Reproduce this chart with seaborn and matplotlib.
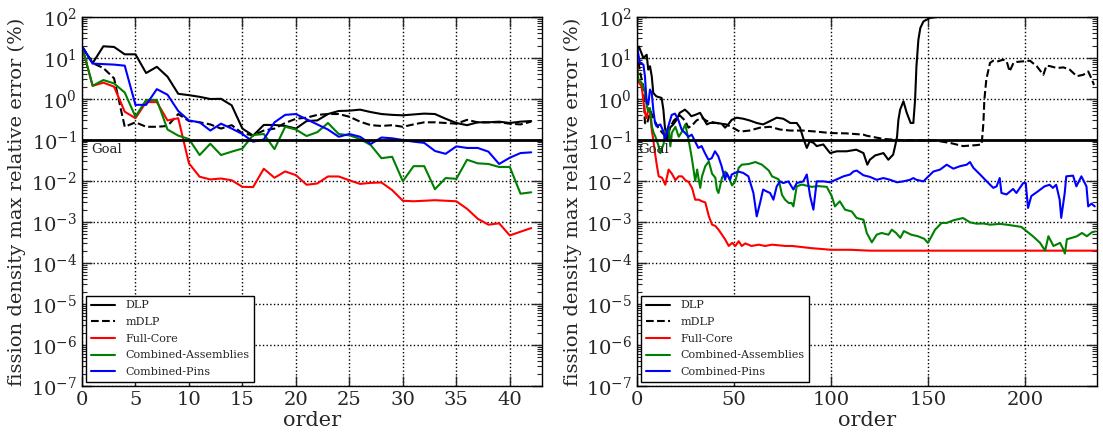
import numpy as np
import pandas as pd
import matplotlib
matplotlib.use("Agg")
import matplotlib.pyplot as plt
import seaborn as sns
from matplotlib.ticker import LogLocator, LogFormatterSciNotation, NullFormatter

# ---------------- left panel: error vs expansion order (0..42) ----------------
order_left = list(range(43))
dlp_left = [19.3, 7.5, 19.3, 18.6, 12.3, 12.3, 4.3, 6.1, 3.5, 1.34,
            1.24, 1.13, 1.0, 1.01, 0.70, 0.19, 0.128, 0.233, 0.233, 0.22,
            0.19, 0.29, 0.30, 0.43, 0.51, 0.52, 0.55, 0.48, 0.43, 0.41,
            0.40, 0.42, 0.44, 0.43, 0.33, 0.26, 0.23, 0.27, 0.27, 0.28,
            0.26, 0.28, 0.29]
mdlp_left = [19.3, 7.5, 5.7, 3.2, 0.21, 0.27, 0.21, 0.21, 0.22, 0.43,
             0.29, 0.27, 0.24, 0.19, 0.23, 0.145, 0.13, 0.17, 0.19, 0.26,
             0.33, 0.35, 0.41, 0.43, 0.43, 0.37, 0.28, 0.23, 0.22, 0.23,
             0.21, 0.24, 0.27, 0.27, 0.26, 0.25, 0.31, 0.27, 0.27, 0.27,
             0.25, 0.24, 0.28]
core_left = [19.3, 2.1, 2.5, 2.0, 0.49, 0.34, 0.84, 0.84, 0.30, 0.34,
             0.027, 0.0127, 0.0109, 0.0115, 0.0104, 0.0072, 0.0071, 0.0199, 0.012, 0.0171,
             0.0139, 0.0081, 0.0087, 0.0129, 0.0129, 0.0104, 0.0085, 0.0090, 0.0092, 0.0060,
             0.0033, 0.0032, 0.0033, 0.0034, 0.0033, 0.0032, 0.0021, 0.0012, 0.00086, 0.00093,
             0.00047, 0.00058, 0.00071]
assm_left = [19.3, 2.1, 2.9, 2.4, 1.44, 0.37, 0.95, 0.95, 0.18, 0.128,
             0.106, 0.043, 0.081, 0.043, 0.052, 0.062, 0.132, 0.14, 0.06, 0.21,
             0.18, 0.125, 0.155, 0.26, 0.14, 0.13, 0.106, 0.075, 0.036, 0.039,
             0.0099, 0.023, 0.023, 0.0063, 0.0118, 0.0113, 0.033, 0.027, 0.026, 0.022,
             0.022, 0.0049, 0.0053]
pins_left = [19.3, 7.3, 7.1, 6.9, 6.5, 0.72, 0.72, 1.74, 1.27, 0.51,
             0.30, 0.27, 0.17, 0.25, 0.19, 0.14, 0.091, 0.103, 0.27, 0.41,
             0.43, 0.32, 0.24, 0.18, 0.12, 0.14, 0.12, 0.080, 0.115, 0.11,
             0.10, 0.091, 0.085, 0.054, 0.046, 0.07, 0.064, 0.064, 0.052, 0.026,
             0.037, 0.048, 0.05]

# ---------------- right panel: error vs order (0..237) ----------------
dlp_right_x = [0, 1, 3.3, 5, 5.8, 6.7, 7.6, 8.4, 10, 12.7, 13.6, 14.4, 15.6, 17, 18.7,
               20.4, 22, 24.7, 26.5, 28, 30, 32.5, 34, 36, 37.6, 41, 43.6, 45.4, 47,
               48.8, 51.4, 54.8, 58, 61.7, 65, 68.6, 72, 75.4, 79, 82.3, 84, 85.7, 87.5,
               89, 91, 92.6, 96, 99.5, 103, 108, 113, 116.7, 118.7, 120, 122.7, 127,
               129.5, 132, 133, 134, 134.7, 135.6, 137.3, 139, 141, 142.4, 143.3, 144,
               145, 146, 147.6, 151, 154.5]
dlp_right_y = [15, 19, 10, 12, 5.2, 6.3, 3.6, 1.4, 1.16, 1.06, 0.55, 0.2, 0.1, 0.2, 0.24,
               0.31, 0.46, 0.55, 0.46, 0.38, 0.41, 0.46, 0.35, 0.24, 0.26, 0.26, 0.25, 0.2, 0.24,
               0.31, 0.35, 0.33, 0.3, 0.26, 0.24, 0.29, 0.35, 0.33, 0.26, 0.26, 0.2, 0.11, 0.064,
               0.093, 0.085, 0.071, 0.078, 0.048, 0.053, 0.053, 0.058, 0.048, 0.025, 0.033, 0.042, 0.048,
               0.033, 0.044, 0.071, 0.12, 0.31, 0.55, 0.88, 0.46, 0.26, 0.26, 0.96, 6.3,
               28, 54, 78, 95, 100]

mdlp_right_x = [0, 1.5, 3.3, 4.1, 5, 7, 9, 11, 13, 15, 17, 19, 22, 24.7, 26.5, 28.5, 30.7,
                33.3, 36, 41, 46, 49.6, 53, 58, 63.4, 68.6, 73.7, 78.9, 85.7, 92.6, 99.5,
                108, 116.7, 118.4, 122.7, 127, 135.6, 144, 153, 161.3, 168, 175, 177.6,
                178.5, 179, 180, 181.9, 183.6, 186, 188.7, 190.5, 192, 194, 195.6, 199,
                202.5, 206, 209.4, 211, 213, 216.3, 219.8, 223, 226.6, 230, 232.5, 234, 235.5]
mdlp_right_y = [15, 4.7, 2.0, 0.26, 0.24, 0.5, 0.3, 0.2, 0.15, 0.12, 0.2, 0.3, 0.4, 0.3, 0.2,
                0.23, 0.3, 0.35, 0.29, 0.26, 0.24, 0.196, 0.16, 0.17, 0.2, 0.21, 0.18, 0.17,
                0.17, 0.16, 0.148, 0.145, 0.135, 0.127, 0.116, 0.106, 0.1, 0.098, 0.098, 0.085,
                0.071, 0.075, 0.078, 0.26, 0.96, 3.0, 7.6, 8.6, 8.3, 9.1, 8.3, 4.7, 7.6, 8.0,
                8.3, 8.6, 6.3, 3.9, 6.5, 6.3, 5.7, 5.9, 5.2, 3.6, 3.9, 4.7, 3.3, 2.2]

core_right_x = [0, 0.7, 2.4, 4.1, 5, 5.8, 6.7, 7.6, 8.4, 9.3, 10.3, 11.2, 12.9, 14.6, 16.3,
                18, 19.8, 21.5, 23.2, 24.9, 26.6, 28.4, 30, 31.8, 33.5, 35.2, 37, 38.7, 40.4,
                42, 43.8, 45.5, 47.3, 49, 50.7, 52.4, 54, 55.8, 59, 62.7, 66, 69.6, 73, 76.5,
                80, 90, 100, 110, 120, 140, 160, 180, 200, 220, 237]
core_right_y = [8, 2.7, 2.0, 0.46, 0.34, 0.6, 0.46, 0.18, 0.1, 0.048, 0.023, 0.013, 0.012,
                0.0081, 0.019, 0.015, 0.0105, 0.013, 0.013, 0.0105, 0.0095, 0.0067, 0.0035,
                0.0035, 0.0032, 0.003, 0.0014, 0.00086, 0.0008, 0.00065, 0.00049, 0.00037,
                0.00026, 0.00031, 0.00026, 0.00034, 0.00026, 0.0003, 0.00026, 0.00028, 0.00026,
                0.00028, 0.00027, 0.00026, 0.00026, 0.00023, 0.00021, 0.00021, 0.0002, 0.0002,
                0.0002, 0.0002, 0.0002, 0.0002, 0.0002]

assm_right_x = [0, 0.7, 2.4, 4.1, 5, 5.8, 6.7, 7.7, 8.6, 9.5, 11.2, 12, 13.7, 14.6, 16.3,
                17.2, 18, 19.8, 21.5, 23.2, 24.9, 26.6, 27.5, 28.4, 30, 31, 31.8, 32.6, 33.5,
                35.2, 37, 38.7, 40.4, 41.2, 42, 43.8, 45.5, 47.3, 49, 50.7, 52.4, 54, 57.6,
                61, 64.4, 67.9, 69.6, 73, 74.7, 76.3, 78.2, 79.7, 80.6, 82.3, 84.9, 90, 93.5,
                97.8, 100.4, 102, 104.5, 107.2, 110.7, 113.2, 116.7, 118.4, 121, 123.5, 126,
                129.6, 131.3, 133.5, 135.7, 137.5, 141.3, 144.7, 148, 149.9, 151.8, 153.6,
                157, 159.6, 163, 168, 171.6, 175, 178.5, 182, 187, 190.5, 195.7, 198, 200.9,
                204, 207.7, 210.3, 212, 214.6, 218, 219.8, 220.5, 221.5, 224, 226.7, 229.3,
                231.8, 234.4, 236.1]
assm_right_y = [6, 3, 2.5, 1.5, 0.7, 0.5, 0.6, 0.21, 0.15, 0.12, 0.07, 0.048, 0.08, 0.15,
                0.21, 0.07, 0.15, 0.21, 0.12, 0.16, 0.24, 0.1, 0.058, 0.033, 0.01, 0.019, 0.011,
                0.0068, 0.013, 0.023, 0.03, 0.015, 0.012, 0.0061, 0.0051, 0.012, 0.017, 0.012,
                0.0078, 0.01, 0.021, 0.025, 0.026, 0.029, 0.025, 0.018, 0.013, 0.011, 0.0046,
                0.0035, 0.0029, 0.0029, 0.0024, 0.0074, 0.0082, 0.0072, 0.0075, 0.0072, 0.0042,
                0.0024, 0.0032, 0.002, 0.0018, 0.00125, 0.00114, 0.00054, 0.00032, 0.00049,
                0.00054, 0.00049, 0.00065, 0.00054, 0.00041, 0.0006, 0.00049, 0.00045, 0.00039,
                0.00031, 0.00045, 0.00065, 0.00095, 0.00095, 0.0011, 0.00125, 0.00098, 0.00091,
                0.00092, 0.00086, 0.0009, 0.00086, 0.00079, 0.00076, 0.00059, 0.00045, 0.00031,
                0.0002, 0.00045, 0.00026, 0.00031, 0.00021, 0.00017, 0.00038, 0.00041, 0.00045,
                0.00054, 0.00045, 0.00056, 0.00059]

pins_right_x = [0, 1.5, 3.3, 4.1, 5, 5.8, 6.7, 7.6, 8.4, 9.3, 10.1, 12, 13.6, 14.4, 16.2,
                17.9, 19.6, 21.3, 23, 24.7, 26.5, 28.2, 29.9, 31.6, 33.3, 35, 36.8, 38.5,
                40.2, 41.9, 43.6, 45.4, 46.2, 48, 48.8, 50.5, 52.2, 54.8, 57.4, 60, 61.7,
                63.4, 65, 66.7, 68.6, 70.3, 72, 73.7, 75.4, 78, 80.6, 82.3, 85.7, 87.5, 89.2,
                90.9, 92.6, 96, 99.5, 103, 106.4, 109.8, 111.5, 113.2, 116.7, 120, 123.5, 127,
                130.4, 134, 137.3, 140.7, 142.4, 144, 147.6, 149.3, 152.7, 156.2, 159.6, 163,
                166.5, 169.9, 171.6, 173.3, 176.8, 180.2, 183.6, 185.3, 186.9, 187.8, 190.4,
                193.8, 195.5, 199, 200.3, 201.5, 203.2, 206.6, 210, 212.6, 214.3, 216, 217.8,
                218.6, 220.4, 221.2, 224.7, 226.4, 229, 231.6, 232.5, 234.2, 235.9]
pins_right_y = [19, 7.6, 6.9, 3.6, 0.8, 0.73, 1.7, 1.4, 0.55, 0.26, 0.215, 0.24, 0.163, 0.1,
                0.22, 0.41, 0.44, 0.31, 0.18, 0.15, 0.12, 0.135, 0.093, 0.064, 0.071, 0.048,
                0.033, 0.036, 0.053, 0.04, 0.023, 0.0107, 0.0157, 0.0107, 0.0144, 0.0157, 0.017,
                0.0157, 0.013, 0.0051, 0.00137, 0.0029, 0.0062, 0.0056, 0.0051, 0.0035, 0.0074,
                0.0098, 0.0089, 0.0098, 0.0062, 0.0089, 0.0098, 0.0144, 0.0043, 0.002, 0.0098,
                0.0098, 0.0093, 0.011, 0.013, 0.0144, 0.017, 0.018, 0.0138, 0.0126, 0.0107,
                0.0118, 0.0107, 0.0093, 0.0098, 0.0107, 0.0118, 0.0107, 0.0098, 0.0118, 0.017,
                0.019, 0.025, 0.02, 0.023, 0.025, 0.029, 0.021, 0.0144, 0.0098, 0.0068, 0.0074,
                0.0118, 0.0051, 0.0047, 0.0064, 0.0051, 0.0089, 0.0089, 0.0022, 0.0043, 0.0056,
                0.0074, 0.0081, 0.0068, 0.0081, 0.0035, 0.00126, 0.0051, 0.013, 0.0135, 0.0074,
                0.013, 0.0074, 0.0024, 0.0028, 0.0024]

GOAL = 0.1
labels = ["DLP", "mDLP", "Full-Core", "Combined-Assemblies", "Combined-Pins"]
colors = ["k", "k", "r", "g", "b"]
styles = ["-", "--", "-", "-", "-"]

sns.set_style("ticks")
plt.rcParams["font.family"] = ["DejaVu Serif"]
plt.rcParams["mathtext.fontset"] = "dejavuserif"
plt.rcParams["axes.unicode_minus"] = False

fig = plt.figure(figsize=(11.03, 4.36), dpi=100)
ax_l = fig.add_axes([0.0743, 0.1147, 0.417, 0.8463])
ax_r = fig.add_axes([0.5775, 0.1147, 0.417, 0.8463])

left_series = [(order_left, dlp_left), (order_left, mdlp_left), (order_left, core_left),
               (order_left, assm_left), (order_left, pins_left)]
right_series = [(dlp_right_x, dlp_right_y), (mdlp_right_x, mdlp_right_y),
                (core_right_x, core_right_y), (assm_right_x, assm_right_y),
                (pins_right_x, pins_right_y)]

def draw_panel(ax, series, xmax, xticks):
    for (xs, ys), lab, col, ls in zip(series, labels, colors, styles):
        df = pd.DataFrame({"order": xs, "err": ys})
        sns.lineplot(data=df, x="order", y="err", ax=ax, color=col, linestyle=ls,
                     linewidth=1.5, label=lab, estimator=None, sort=False)
    ax.axhline(GOAL, color="k", linewidth=2)
    ax.set_yscale("log")
    ax.set_ylim(1e-7, 1e2)
    ax.set_xlim(0, xmax)
    ax.set_xticks(xticks)
    ax.yaxis.set_major_locator(LogLocator(base=10, numticks=12))
    ax.yaxis.set_minor_locator(LogLocator(base=10, subs=np.arange(2, 10), numticks=12))
    ax.yaxis.set_major_formatter(LogFormatterSciNotation())
    ax.yaxis.set_minor_formatter(NullFormatter())
    ax.grid(True, which="major", linestyle=":", color="k", linewidth=1)
    ax.tick_params(which="both", direction="in", top=True, right=True, labelsize=14)
    ax.tick_params(which="major", length=7, width=1)
    ax.tick_params(which="minor", length=3.5, width=0.8)
    for sp in ax.spines.values():
        sp.set_color("k")
        sp.set_linewidth(1)
    ax.set_xlabel("order", fontsize=15, labelpad=1.5)
    ax.set_ylabel("fission density max relative error (%)", fontsize=14, labelpad=3)
    leg = ax.legend(loc="lower left", fontsize=8, frameon=True, fancybox=False,
                    framealpha=1, edgecolor="k", borderaxespad=0.4, handlelength=2.2,
                    handletextpad=0.9, labelspacing=0.6)
    leg.get_frame().set_linewidth(1)

draw_panel(ax_l, left_series, 43, list(range(0, 41, 5)))
ax_l.text(0.9, 0.058, "Goal", fontsize=9.5, va="center", ha="left")
draw_panel(ax_r, right_series, 237, [0, 50, 100, 150, 200])
ax_r.text(0.5, 0.058, "Goal", fontsize=9.5, va="center", ha="left")

fig.savefig("out.png", dpi=100)
